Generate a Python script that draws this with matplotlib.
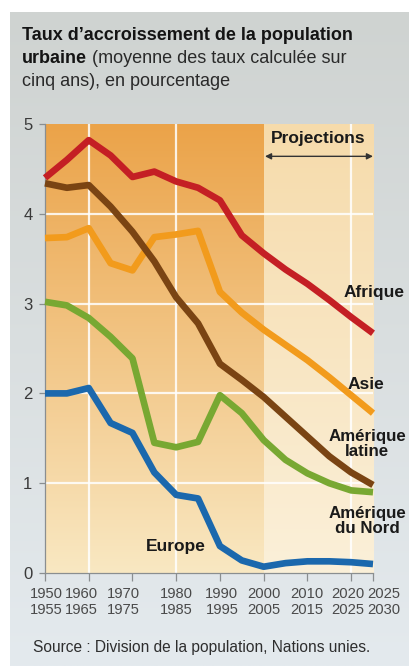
import numpy as np
import matplotlib
matplotlib.use("Agg")
import matplotlib.pyplot as plt
from matplotlib.colors import to_rgb
from matplotlib.transforms import ScaledTranslation

plt.rcParams['font.family'] = ['Liberation Sans', 'DejaVu Sans']

# ---------------- data ----------------
years = [1950, 1955, 1960, 1965, 1970, 1975, 1980, 1985, 1990, 1995,
         2000, 2005, 2010, 2015, 2020, 2025]
afrique = [4.40, 4.60, 4.82, 4.65, 4.41, 4.47, 4.36, 4.29, 4.15, 3.76,
           3.56, 3.38, 3.22, 3.04, 2.85, 2.67]
asie = [3.73, 3.74, 3.84, 3.45, 3.37, 3.74, 3.77, 3.81, 3.13, 2.90,
        2.71, 2.54, 2.37, 2.18, 1.98, 1.78]
amerique_latine = [4.34, 4.29, 4.32, 4.08, 3.80, 3.47, 3.07, 2.78, 2.33, 2.15,
                   1.96, 1.74, 1.52, 1.30, 1.12, 0.98]
amerique_nord = [3.02, 2.98, 2.84, 2.63, 2.39, 1.45, 1.40, 1.46, 1.98, 1.78,
                 1.48, 1.26, 1.11, 1.00, 0.92, 0.90]
europe = [2.00, 2.00, 2.06, 1.67, 1.56, 1.12, 0.87, 0.83, 0.30, 0.14,
          0.07, 0.11, 0.13, 0.13, 0.12, 0.10]

xtick_years = [1950, 1960, 1970, 1980, 1990, 2000, 2010, 2020, 2025]
xtick_labels = ["1950\n1955", "1960\n1965", "1970\n1975", "1980\n1985",
                "1990\n1995", "2000\n2005", "2010\n2015", "2020\n2025",
                "2025\n2030"]
ytick_values = [0, 1, 2, 3, 4, 5]

# ---------------- figure ----------------
W, H = 409, 666
fig = plt.figure(figsize=(W / 100, H / 100), dpi=100, facecolor='white')


def grad(top, bottom, n=256):
    t = np.linspace(0, 1, n)[:, None]
    a = np.array(to_rgb(top))
    b = np.array(to_rgb(bottom))
    return (a * (1 - t) + b * t)[:, None, :]


# grey panel background
bg = fig.add_axes([10 / W, 0, (W - 10) / W, (H - 12) / H], zorder=-10)
bg.imshow(grad('#cfd3d1', '#e4eaee'), aspect='auto', extent=[0, 1, 0, 1])
bg.set_axis_off()

# main axes (pixel geometry)
x0, x1, ytop, ybot = 45, 373, 124, 573
ax = fig.add_axes([x0 / W, (H - ybot) / H, (x1 - x0) / W, (ybot - ytop) / H])
ax.set_facecolor('none')

ax.imshow(grad('#eba349', '#f9e8c2'), aspect='auto',
          extent=[1950, 2000, 0, 5], zorder=0)
ax.imshow(grad('#f6dbab', '#fbf0d9'), aspect='auto',
          extent=[2000, 2025, 0, 5], zorder=0)

ax.hlines([1, 2, 3, 4], 1950, 2025, colors='white', lw=1.6, alpha=0.85, zorder=1)
ax.vlines([1960, 1980, 2020], 0, 5, colors='white', lw=1.6, alpha=0.85, zorder=1)

ax.set_xlim(1950, 2025)
ax.set_ylim(0, 5)

lw = 4.8
series = [
    (afrique, '#c41f24'),
    (asie, '#f29b1c'),
    (amerique_latine, '#7a4413'),
    (amerique_nord, '#78a832'),
    (europe, '#1b68ad'),
]
for vals, col in series:
    ax.plot(years, vals, color=col, lw=lw, solid_joinstyle='round',
            solid_capstyle='butt', clip_on=False, zorder=3)

# spines / ticks
for s in ['top', 'right']:
    ax.spines[s].set_visible(False)
for s in ['left', 'bottom']:
    ax.spines[s].set_color('#8a8e90')
    ax.spines[s].set_linewidth(0.9)

ax.set_yticks(ytick_values)
ax.set_yticklabels([str(v) for v in ytick_values])
ax.set_xticks(xtick_years)
ax.set_xticklabels(xtick_labels)
ax.tick_params(axis='y', length=4, width=0.9, color='#8a8e90', pad=5,
               labelsize=12, labelcolor='#3a3a3a')
ax.tick_params(axis='x', length=6, width=0.9, color='#8a8e90', pad=4,
               labelsize=10.6, labelcolor='#4a4a4a')
for lab in ax.get_xticklabels():
    lab.set_linespacing(1.2)

offsets_px = [1.5, -7, -9, 0, 2, 0, -1, -3, 11]
for lab, dx in zip(ax.get_xticklabels(), offsets_px):
    lab.set_transform(lab.get_transform() +
                      ScaledTranslation(dx / 100, 0, fig.dpi_scale_trans))

# series labels
lab_kw = dict(fontsize=12.5, fontweight='bold', color='#1a1a1a',
              ha='center', va='center', multialignment='center',
              linespacing=1.0, clip_on=False, zorder=5)
ax.text(2025.3, 3.12, "Afrique", **lab_kw)
ax.text(2023.3, 2.10, "Asie", **lab_kw)
lab_kw2 = dict(lab_kw, fontsize=12.2)
ax.text(2023.7, 1.44, "Amérique\nlatine", **lab_kw2)
ax.text(2023.7, 0.58, "Amérique\ndu Nord", **lab_kw2)
ax.text(1980.0, 0.30, "Europe", **lab_kw)

# projections
ax.text(2012.5, 4.84, "Projections", fontsize=12.5, fontweight='bold',
        color='#1a1a1a', ha='center', va='center', zorder=5)
ax.annotate("", xy=(2000.3, 4.64), xytext=(2025.0, 4.64),
            arrowprops=dict(arrowstyle='<|-|>', color='#333333', lw=1.0,
                            mutation_scale=9, shrinkA=0, shrinkB=0),
            annotation_clip=False, zorder=5)

# title
tx = 22 / W
fs_t = 13
t1 = fig.text(tx, 1 - 40 / H, "Taux d’accroissement de la population",
              fontsize=fs_t, fontweight='bold', color='#141414', va='baseline')
t2 = fig.text(tx, 1 - 63 / H, "urbaine", fontsize=fs_t, fontweight='bold',
              color='#141414', va='baseline')
t2b = fig.text(tx, 1 - 63 / H, " (moyenne des taux calculée sur", fontsize=fs_t,
               color='#2a2a2a', va='baseline', ha='left')
t3 = fig.text(tx, 1 - 86 / H, "cinq ans), en pourcentage", fontsize=fs_t,
              color='#2a2a2a', va='baseline')

# source
fig.text(33 / W, 1 - 652 / H, "Source : Division de la population, Nations unies.",
         fontsize=11.2, color='#2e2e2e', va='baseline')

# place the regular part of line 2 right after the bold word
fig.canvas.draw()
r = fig.canvas.get_renderer()
bb = t2.get_window_extent(r)
t2b.set_position((bb.x1 / fig.bbox.width, 1 - 63 / H))

fig.savefig("out.png", dpi=100, facecolor='white')
